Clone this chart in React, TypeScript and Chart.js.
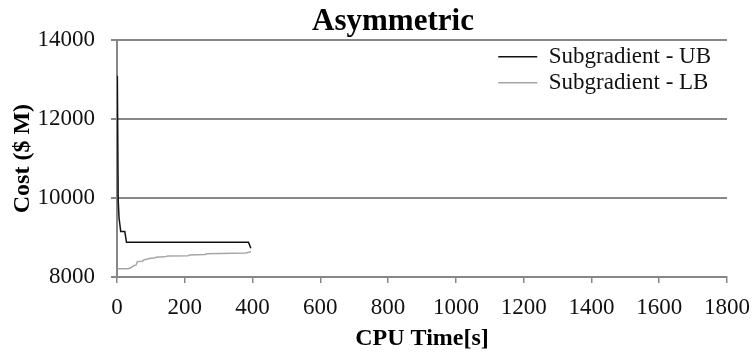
import React, { useEffect, useRef } from "react";
import { Chart, registerables } from "chart.js";

Chart.register(...registerables);

const chartTitle = "Asymmetric";
const xTitle = "CPU Time[s]";
const yTitle = "Cost ($ M)";
const seriesNames = ["Subgradient - UB", "Subgradient - LB"];

const xMin = 0;
const xMax = 1800;
const xStep = 200;
const yMin = 8000;
const yMax = 14000;
const yStep = 2000;

// Upper bound (time s, cost $M)
const ubTime = [1, 3.5, 6, 11, 23, 28, 388, 395];
const ubCost = [13100, 9960, 9500, 9150, 9150, 8880, 8880, 8730];

// Lower bound (time s, cost $M)
const lbTime = [2, 33, 42, 50, 56, 60, 75, 80, 88, 95, 110, 115, 140, 150, 210, 215, 260, 265, 380, 395];
const lbCost = [8210, 8210, 8240, 8290, 8300, 8390, 8400, 8440, 8450, 8470, 8480, 8500, 8510, 8530, 8540, 8560, 8570, 8590, 8610, 8640];

const FONT = "'Liberation Serif', 'Times New Roman', serif";
const GRID = "#878787";

const placePlugin = {
  id: "place",
  afterLayout(chart: any) {
    const ca = chart.chartArea;
    const lg = chart.legend;
    if (lg) {
      const w = lg.width;
      const h = lg.height;
      lg.left = ca.right - w - 6;
      lg.right = lg.left + w;
      lg.top = ca.top + 2;
      lg.bottom = lg.top + h;
    }
    const tb = chart.titleBlock;
    if (tb) {
      tb.left = ca.left - 58;
      tb.right = ca.right;
    }
  },
};

export default function App() {
  const ref = useRef<HTMLCanvasElement | null>(null);

  useEffect(() => {
    document.body.style.margin = "0";
    const canvas = ref.current;
    if (!canvas) return;
    const ub = ubTime.map((t, i) => ({ x: t, y: ubCost[i] }));
    const lb = lbTime.map((t, i) => ({ x: t, y: lbCost[i] }));
    const chart = new Chart(canvas, {
      type: "line",
      data: {
        datasets: [
          {
            label: seriesNames[0],
            data: ub,
            borderColor: "#111111",
            backgroundColor: "#111111",
            borderWidth: 1.5,
            pointRadius: 0,
            tension: 0,
            fill: false,
            pointStyle: "line",
          },
          {
            label: seriesNames[1],
            data: lb,
            borderColor: "#a6a6a6",
            backgroundColor: "#a6a6a6",
            borderWidth: 1.5,
            pointRadius: 0,
            tension: 0,
            fill: false,
            pointStyle: "line",
          },
        ],
      },
      options: {
        responsive: false,
        animation: false,
        layout: { padding: { left: 8, right: 27, top: 0, bottom: 3 } },
        plugins: {
          title: {
            display: true,
            text: chartTitle,
            color: "#000",
            font: { family: FONT, size: 31, weight: "bold" },
            padding: { top: 3, bottom: 0 },
          },
          legend: {
            position: "chartArea" as any,
            align: "start",
            labels: {
              usePointStyle: true,
              pointStyleWidth: 39,
              boxHeight: 2,
              padding: 3,
              color: "#111",
              font: { family: FONT, size: 23 },
            },
          },
          tooltip: { enabled: false },
        },
        scales: {
          x: {
            type: "linear",
            min: xMin,
            max: xMax,
            afterFit: (s: any) => {
              s.height = 76;
              s.paddingRight = 0;
              s.paddingLeft = 0;
            },
            ticks: {
              stepSize: xStep,
              padding: 11,
              color: "#111",
              font: { family: FONT, size: 23 },
              maxRotation: 0,
              callback: (v: any) => String(v),
            },
            grid: {
              display: true,
              drawOnChartArea: false,
              drawTicks: true,
              tickLength: 6,
              color: GRID,
              lineWidth: 1.5,
            },
            border: { display: true, color: GRID, width: 2 },
            title: {
              display: true,
              text: xTitle,
              color: "#000",
              font: { family: FONT, size: 24, weight: "bold" },
              padding: { top: 0, bottom: 0 },
            },
          },
          y: {
            type: "linear",
            min: yMin,
            max: yMax,
            afterFit: (s: any) => {
              s.width = 109;
            },
            ticks: {
              stepSize: yStep,
              padding: 16,
              color: "#111",
              font: { family: FONT, size: 23 },
              callback: (v: any) => String(v),
            },
            grid: {
              display: true,
              drawOnChartArea: true,
              drawTicks: true,
              tickLength: 6,
              color: GRID,
              lineWidth: 2,
            },
            border: { display: true, color: GRID, width: 2 },
            title: {
              display: true,
              text: yTitle,
              color: "#000",
              font: { family: FONT, size: 24, weight: "bold" },
              padding: { top: 0, bottom: 0 },
            },
          },
        },
      },
      plugins: [placePlugin],
    });
    return () => chart.destroy();
  }, []);

  return (
    <div style={{ width: 754, height: 356 }}>
      <canvas ref={ref} width={754} height={356} style={{ display: "block" }} />
    </div>
  );
}
